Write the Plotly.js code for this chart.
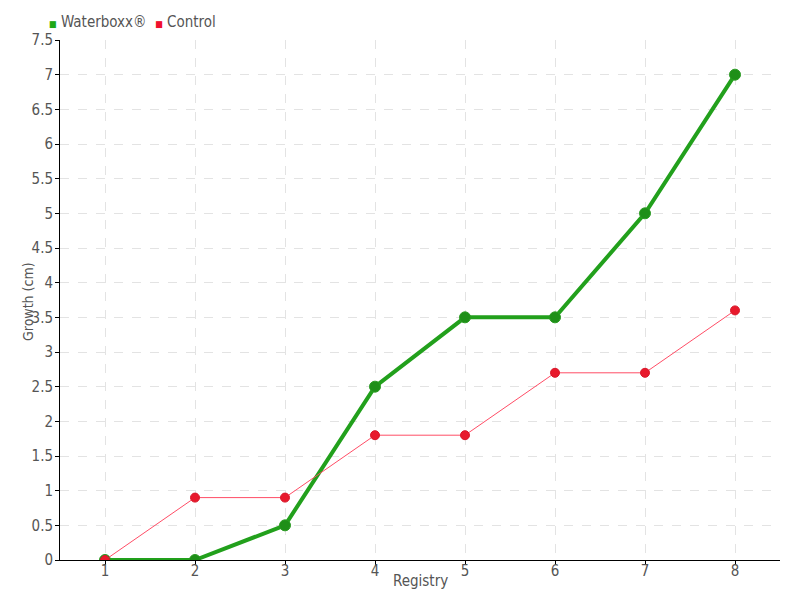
<!DOCTYPE html>
<html><head><meta charset="utf-8">
<script src="https://cdn.plot.ly/plotly-3.0.1.min.js"></script>
<style>body{margin:0;background:#fff}#chart{width:800px;height:600px}</style>
</head><body><div id="chart"></div>
<script>
const registry = [1,2,3,4,5,6,7,8];
const waterboxx = [0,0,0.5,2.5,3.5,3.5,5,7];
const control = [0,0.9,0.9,1.8,1.8,2.7,2.7,3.6];
const yTicks = [0,0.5,1,1.5,2,2.5,3,3.5,4,4.5,5,5.5,6,6.5,7,7.5];
const yTickText = ['0','0.5','1','1.5','2','2.5','3','3.5','4','4.5','5','5.5','6','6.5','7','7.5'];
const seriesNames = ['Waterboxx®','Control'];
const font = "'Liberation Sans Narrow', 'DejaVu Sans Condensed', sans-serif";

const traces = [
  {x: registry, y: waterboxx, type:'scatter', mode:'lines+markers', name:seriesNames[0], showlegend:false,
   line:{color:'#22a01c', width:4}, marker:{color:'#1e8f18', size:11, line:{color:'#2a9a22', width:1}}},
  {x: registry, y: control, type:'scatter', mode:'lines+markers', name:seriesNames[1], showlegend:false,
   line:{color:'#ff4d66', width:1}, marker:{color:'#e8192c', size:9, line:{color:'#d8182a', width:1}}}
];

const layout = {
  width:800, height:600,
  margin:{l:60, r:20, t:40, b:40},
  paper_bgcolor:'#fff', plot_bgcolor:'#fff',
  font:{family:font, size:14, color:'#555'},
  showlegend:false,
  annotations:[
    {xref:'paper', yref:'paper', x:-0.018, y:1.0 + 18/520, xanchor:'left', yanchor:'middle', showarrow:false,
     text:"<span style='color:#1ea816;font-size:9px'>■</span> " + seriesNames[0] + "  <span style='color:#f0102e;font-size:9px'>■</span> " + seriesNames[1],
     font:{family:font, size:15, color:'#555'}},
    {xref:'paper', yref:'paper', x:0.5, y:-21/520, xanchor:'center', yanchor:'middle', showarrow:false,
     text:'Registry', font:{family:font, size:15, color:'#555'}},
    {xref:'paper', yref:'paper', x:-32/720, y:(560-302)/520, xanchor:'center', yanchor:'middle', showarrow:false, textangle:-90,
     text:'Growth (cm)', font:{family:font, size:14, color:'#555'}}
  ],
  xaxis:{range:[0.5,8.5], tickvals:registry, ticktext:registry.map(String), showline:true, linecolor:'#000', linewidth:1,
    ticks:'outside', ticklen:4, tickcolor:'#000', showgrid:true, gridcolor:'#e3e3e3', griddash:'dash', zeroline:false,
    ticklabelstandoff:-7,
    tickfont:{family:font, size:15, color:'#555'}},
  yaxis:{range:[0,7.5], tickvals:yTicks, ticktext:yTickText, showline:true, linecolor:'#000', linewidth:1,
    ticks:'outside', ticklen:4, tickcolor:'#000', showgrid:true, gridcolor:'#e3e3e3', griddash:'dash', zeroline:false,
    ticklabelstandoff:-1,
    tickfont:{family:font, size:15, color:'#555'}}
};
Plotly.newPlot('chart', traces, layout, {displayModeBar:false});
</script></body></html>
